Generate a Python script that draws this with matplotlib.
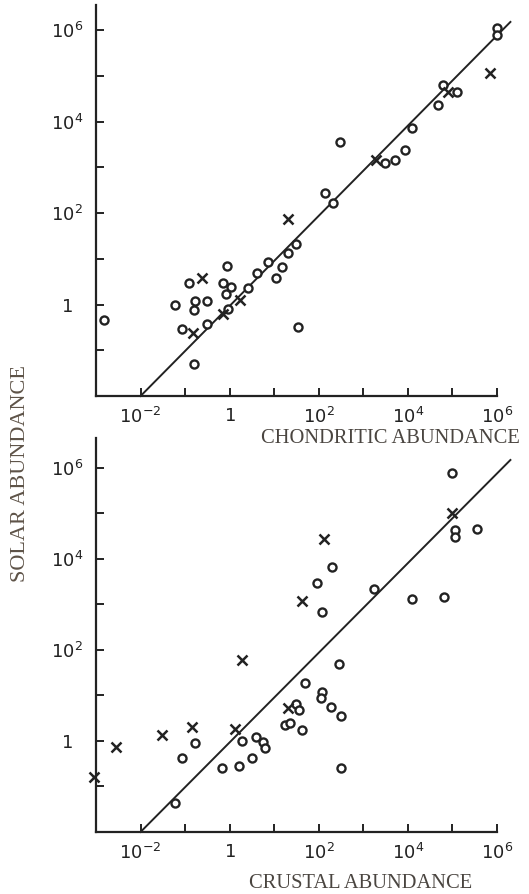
import matplotlib
matplotlib.use('Agg')
import matplotlib.pyplot as plt
import numpy as np

# log10 abundances
# top panel: solar vs chondritic
chond_circ_lx = [6.0, 6.0, 4.79, 5.11, 4.68, 4.1, 2.48, 3.49, 3.72, 3.94, 2.15, 2.33,
                 -0.05, -0.92, -1.22, -0.77, -0.81, -0.5, -0.14, 0.02, -0.09, -1.06,
                 -0.5, -0.03, 0.42, 0.62, 0.85, 1.18, 1.03, 1.3, 1.48, -0.81, 1.54, -2.81]
chond_circ_ly = [6.05, 5.88, 4.79, 4.64, 4.35, 3.85, 3.55, 3.1, 3.15, 3.38, 2.43, 2.21,
                 0.85, 0.46, 0.0, 0.07, -0.13, 0.07, 0.46, 0.39, 0.24, -0.53,
                 -0.42, -0.09, 0.37, 0.68, 0.92, 0.81, 0.59, 1.12, 1.33, -1.29, -0.5, -0.33]
chond_x_lx = [5.85, 4.9, 3.28, 1.32, -0.61, -0.83, -0.16, 0.24]
chond_x_ly = [5.05, 4.64, 3.15, 1.87, 0.57, -0.63, -0.2, 0.09]

# bottom panel: solar vs crustal
crust_circ_lx = [4.98, 5.05, 5.05, 5.55, 2.3, 1.97, 2.07, 3.23, 4.1, 4.82,
                 2.45, 1.68, 2.07, 2.04, 2.28, 2.5, 1.48, 1.56, 1.24, 1.35, 1.62, 2.5,
                 0.27, 0.6, 0.75, 0.8, -0.17, 0.22, 0.5, -0.78, -1.07, -1.22]
crust_circ_ly = [5.89, 4.63, 4.48, 4.66, 3.82, 3.47, 2.84, 3.34, 3.13, 3.16,
                 1.7, 1.28, 1.08, 0.95, 0.75, 0.55, 0.82, 0.68, 0.35, 0.39, 0.24, -0.59,
                 0.0, 0.09, -0.02, -0.15, -0.6, -0.54, -0.37, -0.05, -0.38, -1.37]
crust_x_lx = [5.0, 2.12, 1.62, 0.28, 1.32, 0.13, -0.85, -1.53, -2.56, -3.04]
crust_x_ly = [5.01, 4.43, 3.07, 1.78, 0.73, 0.27, 0.31, 0.13, -0.13, -0.8]

# line of equal abundance (endpoints)
fit_x = [1e-2, 2e6]
fit_y = [1e-2, 1.5e6]

ink = '#222222'
label_col = '#5e5348'

fig = plt.figure(figsize=(5.29, 8.94), dpi=100)
ax1 = fig.add_axes([0.1815, 0.557, 0.758, 0.4376])
ax2 = fig.add_axes([0.1815, 0.0694, 0.758, 0.4407])


def draw(ax, clx, cly, xlx, xly, ytop):
    ax.plot(fit_x, fit_y, color=ink, lw=1.4, clip_on=False, zorder=2)
    ax.plot(10.0 ** np.array(clx), 10.0 ** np.array(cly), 'o', ms=5.8, mfc='white',
            mec=ink, mew=1.7, clip_on=False, zorder=3)
    ax.plot(10.0 ** np.array(xlx), 10.0 ** np.array(xly), 'x', ms=7.5, mec=ink,
            mew=1.8, clip_on=False, zorder=3)
    ax.set_xscale('log')
    ax.set_yscale('log')
    ax.set_xlim(1e-3, 1e6)
    ax.set_ylim(1e-2, 10 ** ytop)
    for s in ['top', 'right']:
        ax.spines[s].set_visible(False)
    for s in ['left', 'bottom']:
        ax.spines[s].set_linewidth(1.6)
        ax.spines[s].set_color(ink)
    ax.set_xticks([10.0 ** k for k in range(-3, 7)])
    ax.set_xticklabels(['', r'$10^{-2}$', '', '$1$', '', r'$10^{2}$', '', r'$10^{4}$', '', r'$10^{6}$'])
    ax.set_yticks([10.0 ** k for k in range(-1, 7)])
    ax.set_yticklabels(['', '$1$', '', r'$10^{2}$', '', r'$10^{4}$', '', r'$10^{6}$'])
    ax.minorticks_off()
    ax.tick_params(axis='both', direction='in', length=6, width=1.4, color=ink,
                   labelsize=13, labelcolor=ink)
    ax.tick_params(axis='y', pad=21)
    for t in ax.get_yticklabels():
        t.set_horizontalalignment('center')
    ax.tick_params(axis='x', pad=8)


draw(ax1, chond_circ_lx, chond_circ_ly, chond_x_lx, chond_x_ly, 6.55)
draw(ax2, crust_circ_lx, crust_circ_ly, crust_x_lx, crust_x_ly, 6.66)

fig.text(0.983, 1 - 438 / 894, 'CHONDRITIC ABUNDANCE', ha='right', va='center',
         fontsize=14.8, family='Liberation Serif', color='#4a4540')
fig.text(0.682, 1 - 883 / 894, 'CRUSTAL ABUNDANCE', ha='center', va='center',
         fontsize=14.8, family='Liberation Serif', color='#4a4540')
fig.text(0.038, 1 - 473 / 894, 'SOLAR ABUNDANCE', ha='center', va='center',
         rotation=90, fontsize=16, family='Liberation Serif', color=label_col)

fig.savefig('out.png', dpi=100)
